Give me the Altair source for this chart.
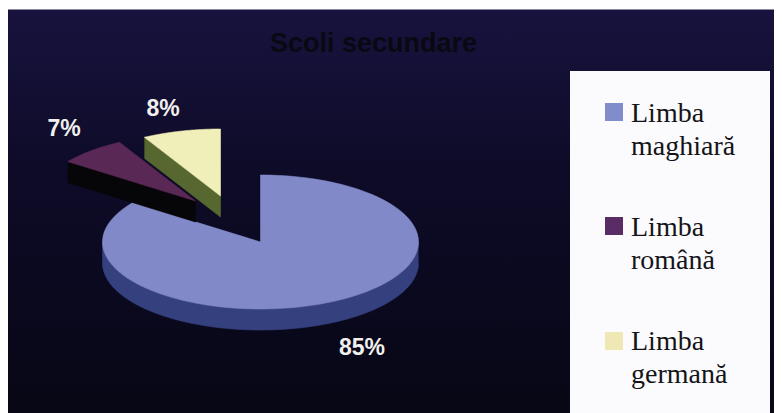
import numpy as np
import pandas as pd
import altair as alt

categories = ["Limba maghiară", "Limba română", "Limba germană"]
values = [85, 7, 8]
value_labels = ["85%", "7%", "8%"]
top_colors = ["#8189c9", "#5a2855", "#f1efb9"]
side_colors = ["#35407f", "#060608", "#56682f"]
legend_colors = ["#808ccb", "#5a2c66", "#efe8b4"]
legend_lines = ["Limba\nmaghiară", "Limba\nromână", "Limba\ngermană"]
title_text = "Scoli secundare"

# Layout, in page pixels
W, H = 766, 405
cx, cy, rx, ry, depth = 260.5, 242.0, 158.0, 67.0, 21.0
offsets = [(0, 0), (-65, -41), (-40, -46)]
label_pos = [(362, 347.5), (64, 128.5), (163, 108.5)]
legend_sym_y = [112, 226, 341]
legend_text_y = [122, 236, 350]

xs = alt.Scale(domain=[8, 8 + W], range=[0, W], nice=False, zero=False)
ys = alt.Scale(domain=[8 + H, 8], range=[H, 0], nice=False, zero=False)
X = lambda f: alt.X(f, type="quantitative", scale=xs, axis=None)
Y = lambda f: alt.Y(f, type="quantitative", scale=ys, axis=None)


def ell(a, ox, oy, dy=0.0):
    r = np.radians(a)
    return cx + ox + rx * np.sin(r), cy + oy + ry * -np.cos(r) + dy


def poly(px, py, color):
    d = pd.DataFrame({"x": px, "y": py, "i": range(len(px))})
    return (
        alt.Chart(d)
        .mark_line(fill=color, stroke=color, strokeWidth=0.6, interpolate="linear")
        .encode(x=X("x"), y=Y("y"), order=alt.Order("i:Q"))
    )


layers = []

# Background panel
bg = pd.DataFrame({"x": [8], "x2": [774], "y": [9.5], "y2": [413]})
layers.append(
    alt.Chart(bg)
    .mark_rect(
        color=alt.LinearGradient(
            gradient="linear", x1=0, x2=0, y1=0, y2=1,
            stops=[
                alt.GradientStop(color="#17133e", offset=0),
                alt.GradientStop(color="#0e0b28", offset=0.4),
                alt.GradientStop(color="#070715", offset=1),
            ],
        )
    )
    .encode(x=X("x"), x2="x2", y=Y("y"), y2="y2")
)

# Pie slices, angles derived from the values
starts = np.cumsum([0] + values[:-1]) / sum(values) * 360
ends = np.cumsum(values) / sum(values) * 360
for k, (s, e) in enumerate(zip(starts, ends)):
    ox, oy = offsets[k]
    ang = np.linspace(s, e, 90)
    ax, ay = ell(ang, ox, oy)
    apex_x, apex_y = cx + ox, cy + oy
    if k == 0:
        front = np.linspace(90, 270, 90)
        fx, fy = ell(front, ox, oy)
        layers.append(
            poly(
                list(fx) + list(fx[::-1]),
                list(fy) + list((fy + depth)[::-1]),
                side_colors[k],
            )
        )
    else:
        ex, ey = ax[0], ay[0]
        layers.append(
            poly(
                [ex, apex_x, apex_x, ex],
                [ey, apex_y, apex_y + depth, ey + depth],
                side_colors[k],
            )
        )
    layers.append(
        poly([apex_x] + list(ax) + [apex_x], [apex_y] + list(ay) + [apex_y], top_colors[k])
    )

# Percentage labels
lab = pd.DataFrame(
    {"x": [p[0] for p in label_pos], "y": [p[1] for p in label_pos], "t": value_labels}
)
layers.append(
    alt.Chart(lab)
    .mark_text(font="Liberation Sans", fontWeight="bold", fontSize=23, color="#f2f0ee")
    .encode(x=X("x"), y=Y("y"), text="t:N")
)

# Title
tt = pd.DataFrame({"x": [373.5], "y": [44], "t": [title_text]})
layers.append(
    alt.Chart(tt)
    .mark_text(font="Liberation Sans", fontWeight="bold", fontSize=27, color="#0a0812")
    .encode(x=X("x"), y=Y("y"), text="t:N")
)

# Legend panel
box = pd.DataFrame({"x": [570], "x2": [770], "y": [71], "y2": [413]})
layers.append(
    alt.Chart(box)
    .mark_rect(color="#fbfbfd")
    .encode(x=X("x"), x2="x2", y=Y("y"), y2="y2")
)
sym = pd.DataFrame({"x": [614] * 3, "y": legend_sym_y, "cat": categories})
layers.append(
    alt.Chart(sym)
    .mark_square(size=324, opacity=1)
    .encode(
        x=X("x"), y=Y("y"),
        fill=alt.Fill("cat:N", scale=alt.Scale(domain=categories, range=legend_colors), legend=None),
    )
)
txt = pd.DataFrame({"x": [631] * 3, "y": legend_text_y, "t": legend_lines})
layers.append(
    alt.Chart(txt)
    .mark_text(
        font="Liberation Serif", fontSize=28, color="#141418", align="left",
        baseline="alphabetic", lineBreak="\n", lineHeight=33,
    )
    .encode(x=X("x"), y=Y("y"), text="t:N")
)

chart = (
    alt.layer(*layers)
    .resolve_scale(fill="independent")
    .properties(width=W, height=H, padding=0, autosize=alt.AutoSizeParams(type="none"), background="white")
    .configure_view(stroke=None)
)
chart.save("out.html", embed_options={"renderer": "svg", "actions": False})
